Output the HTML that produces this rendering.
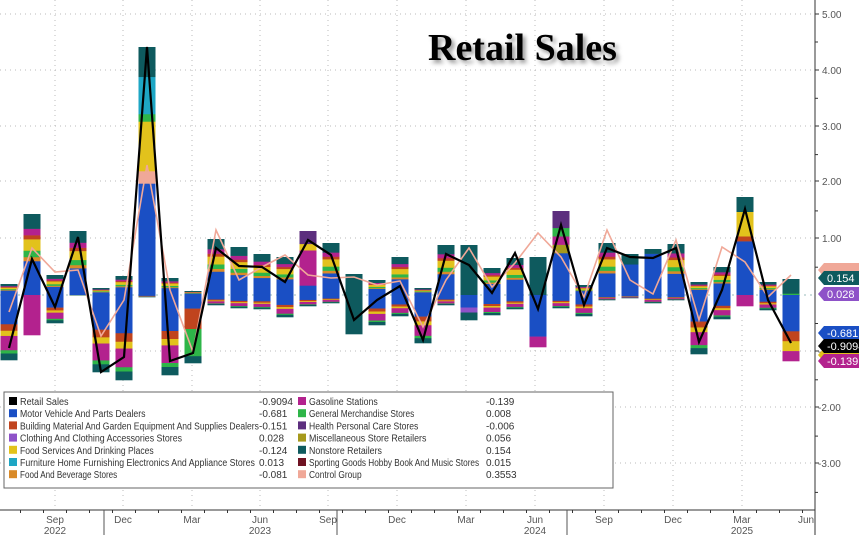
<!DOCTYPE html>
<html><head><meta charset="utf-8"><style>
body{margin:0;background:#fff;width:859px;height:535px;overflow:hidden;font-family:"Liberation Sans",sans-serif}
svg{position:absolute;left:0;top:0}
</style></head><body>
<svg id="s" width="859" height="535" xmlns="http://www.w3.org/2000/svg"></svg>
<script>
const S=document.getElementById('s');let h='';
const C={bk:'#000',bl:'#1a4fc4',br:'#c0441e',cl:'#8e52c8',fs:'#e2c21c',fu:'#1ea6c4',fb:'#d98a28',ga:'#b3228e',gm:'#2eb548',he:'#5c2e7e',mi:'#a6991c',ns:'#0e5a5e',sp:'#6e1222',cg:'#f0a898'};
const Z=295;
[14,70,126,181,238,351,407,463].forEach(y=>h+=`<line x1="0" x2="815" y1="${y}" y2="${y}" stroke="#bbb" stroke-dasharray="1,4"/>`);
h+=`<line x1="0" x2="815" y1="${Z}" y2="${Z}" stroke="#9bb" stroke-dasharray="2,4"/>`;
[55,123,192,260,328,397,466,535,604,673,742].forEach(x=>h+=`<line x1="${x}" x2="${x}" y1="0" y2="510" stroke="#bbb" stroke-dasharray="1,4"/>`);
const D=[[284,360,348,312],[214,335,259,248],[275,323,307,272],[231,294,237,270],[288,372,372,336],[276,380,357,300],[47,297,47,165],[278,375,361,290],[291,363,353,352],[239,305,248,230],[247,308,266,280],[254,309,267,267],[257,317,282,255],[231,306,240,275],[243,303,255,278],[274,334,320,277],[280,325,300,285],[257,316,286,281],[288,343,340,327],[245,305,254,280],[245,320,265,248],[268,315,293,287],[258,309,253,263],[257,347,309,233],[211,308,225,257],[285,316,305,297],[243,300,248,230],[254,298,257,280],[249,303,258,294],[244,300,248,240],[282,354,342,320],[267,319,290,247],[197,306,209,262],[282,310,300,297],[279,361,343,275]];
const P=[['bl',.42],['fb',.05],['gm',.08],['fs',.14],['br',.05],['ga',.08],['ns',.18]];
const N=[['bl',.45],['br',.1],['fs',.08],['ga',.22],['gm',.05],['ns',.1]];
const cust={1:{n:[['ga',1]]},6:{p:[['bl',.45],['cg',.05],['fs',.2],['gm',.03],['fu',.15],['ns',.12]]},13:{p:[['bl',.15],['ga',.55],['fs',.1],['he',.2]]},15:{p:[['ns',1]],n:[['ns',1]]},23:{p:[['ns',1]],n:[['bl',.8],['ga',.2]]},24:{p:[['bl',.5],['mi',.1],['ga',.1],['gm',.1],['he',.2]]},20:{p:[['ns',1]],n:[['bl',.5],['cl',.2],['ns',.3]]},32:{p:[['bl',.55],['br',.05],['fs',.25],['ns',.15]],n:[['ga',1]]},34:{p:[['gm',.1],['ns',.9]],n:[['bl',.55],['br',.15],['fs',.15],['ga',.15]]},8:{n:[['bl',.2],['br',.3],['gm',.4],['ns',.1]]},28:{p:[['bl',.9],['ns',.1]]},27:{p:[['bl',.75],['ns',.25]]}};
D.forEach((d,i)=>{const cx=9+23*i,x=cx-8.5;const c=cust[i]||{};
 let y=Z;const pt=Math.max(0,Z-d[0]);(c.p||P).forEach(([k,f])=>{const hh=pt*f;y-=hh;h+=`<rect x="${x}" y="${y}" width="17" height="${hh+.3}" fill="${C[k]}"/>`;});
 y=Z;const nb=Math.max(0,d[1]-Z);(c.n||N).forEach(([k,f])=>{const hh=nb*f;h+=`<rect x="${x}" y="${y}" width="17" height="${hh+.3}" fill="${C[k]}"/>`;y+=hh;});
});
h+=`<polyline fill="none" stroke="${C.cg}" stroke-width="1.6" points="${D.map((d,i)=>(9+23*i)+','+d[3]).join(' ')}"/>`;
h+=`<polyline fill="none" stroke="#000" stroke-width="2.2" points="${D.map((d,i)=>(9+23*i)+','+d[2]).join(' ')}"/>`;
h+=`<line x1="815" x2="815" y1="0" y2="535" stroke="#333"/>`;
[['5.00',14],['4.00',70],['3.00',126],['2.00',181],['1.00',238],['-1.00',351],['-2.00',407],['-3.00',463]].forEach(([t,y])=>{h+=`<line x1="815" x2="819" y1="${y}" y2="${y}" stroke="#333"/><text x="${t[0]=='-'?818:822}" y="${y+4}" font-size="10" fill="#555">${t}</text>`;});
for(let y=42;y<510;y+=56.3)h+=`<line x1="815" x2="818" y1="${y}" y2="${y}" stroke="#333"/>`;
function tag(y,col,t,tc){h+=`<path d="M818 ${y} l6 -7 h35 v14 h-35 z" fill="${col}"/><text x="827" y="${y+4}" font-size="11" fill="${tc||'#fff'}">${t}</text>`;}
tag(270,C.cg,'');tag(278,C.ns,'0.154');tag(294,C.cl,'0.028');tag(355,C.fs,'');tag(361,C.ga,'-0.139');tag(333,C.bl,'-0.681');tag(346,'#000','-0.9094');
h+=`<text x="428" y="60" font-family="Liberation Serif,serif" font-weight="bold" font-size="38" fill="#000" style="filter:drop-shadow(3px 3px 2px #999)">Retail Sales</text>`;
h+=`<line x1="0" x2="815" y1="510" y2="510" stroke="#333"/>`;
for(let i=0;i<36;i++){const x=9+23*i-11.5;h+=`<line x1="${x}" x2="${x}" y1="510" y2="513" stroke="#333"/>`;}
[['Sep',55],['Dec',123],['Mar',192],['Jun',260],['Sep',328],['Dec',397],['Mar',466],['Jun',535],['Sep',604],['Dec',673],['Mar',742],['Jun',806]].forEach(([t,x])=>h+=`<text x="${x}" y="523" font-size="10" fill="#555" text-anchor="middle">${t}</text>`);
[['2022',55],['2023',260],['2024',535],['2025',742]].forEach(([t,x])=>h+=`<text x="${x}" y="534" font-size="10" fill="#555" text-anchor="middle">${t}</text>`);
[104,337,567].forEach(x=>h+=`<line x1="${x}" x2="${x}" y1="510" y2="535" stroke="#555"/>`);
h+=`<rect x="4" y="392" width="609" height="96" fill="#fff" stroke="#666"/>`;
const L1=[['bk','Retail Sales','-0.9094'],['bl','Motor Vehicle And Parts Dealers','-0.681'],['br','Building Material And Garden Equipment And Supplies Dealers','-0.151'],['cl','Clothing And Clothing Accessories Stores','0.028'],['fs','Food Services And Drinking Places','-0.124'],['fu','Furniture Home Furnishing Electronics And Appliance Stores','0.013'],['fb','Food And Beverage Stores','-0.081']];
const L2=[['ga','Gasoline Stations','-0.139'],['gm','General Merchandise Stores','0.008'],['he','Health Personal Care Stores','-0.006'],['mi','Miscellaneous Store Retailers','0.056'],['ns','Nonstore Retailers','0.154'],['sp','Sporting Goods Hobby Book And Music Stores','0.015'],['cg','Control Group','0.3553']];
function leg(L,x0,vx){L.forEach(([k,t,v],j)=>{const y=405+12.2*j;h+=`<rect x="${x0}" y="${y-8}" width="8" height="8" fill="${C[k]}"/><text x="${x0+11}" y="${y}" font-size="10" fill="#333" textLength="${(t.length*4.05).toFixed(1)}" lengthAdjust="spacingAndGlyphs">${t}</text><text x="${vx}" y="${y}" font-size="10" fill="#333">${v}</text>`;});}
leg(L1,9,259);leg(L2,298,486);
S.innerHTML=h;
</script>
</body></html>
